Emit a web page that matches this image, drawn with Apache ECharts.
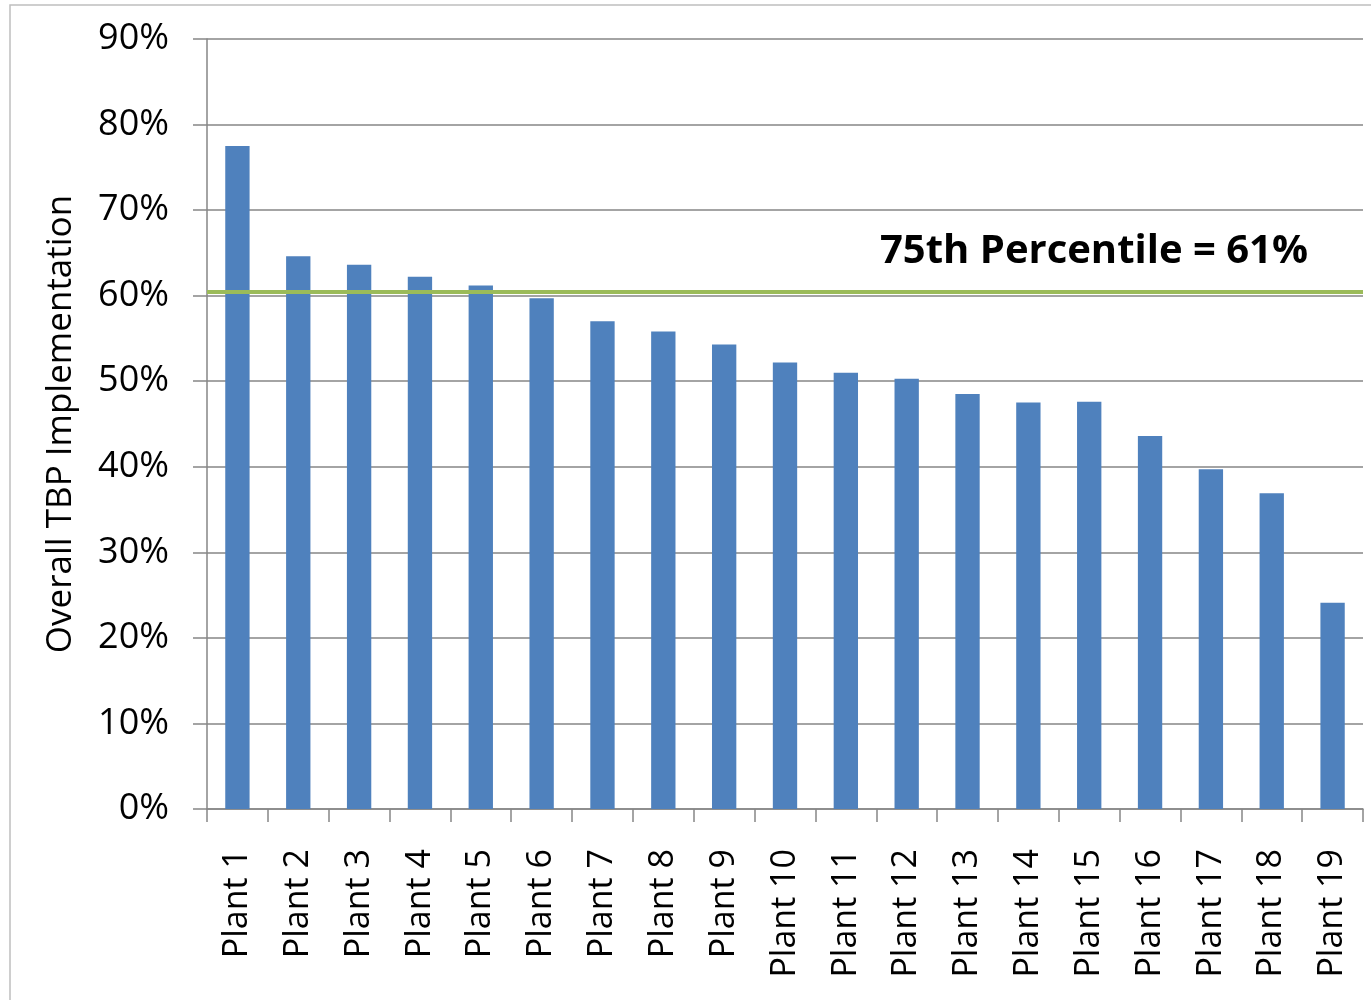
<!DOCTYPE html>
<html>
<head>
<meta charset="utf-8">
<script src="https://cdn.jsdelivr.net/npm/echarts@6/dist/echarts.min.js"></script>
<style>
  html, body { margin: 0; padding: 0; background: #fff; }
  #main { width: 1371px; height: 1000px; }
</style>
</head>
<body>
<div id="main"></div>
<script>
// data
var plants = ['Plant 1', 'Plant 2', 'Plant 3', 'Plant 4', 'Plant 5', 'Plant 6', 'Plant 7',
  'Plant 8', 'Plant 9', 'Plant 10', 'Plant 11', 'Plant 12', 'Plant 13', 'Plant 14',
  'Plant 15', 'Plant 16', 'Plant 17', 'Plant 18', 'Plant 19'];
var implementation = [77.5, 64.6, 63.6, 62.2, 61.2, 59.7, 57.0, 55.8, 54.3, 52.2,
  51.0, 50.3, 48.5, 47.5, 47.6, 43.6, 39.7, 36.9, 24.1];
var percentile75 = 60.5;
var percentileText = '75th Percentile = 61%';

var font = 'Open Sans';
var chart = echarts.init(document.getElementById('main'));

var option = {
  animation: false,
  backgroundColor: '#fff',
  graphic: [{
    type: 'rect',
    shape: { x: 10, y: 5, width: 1400, height: 1100 },
    style: { fill: 'none', stroke: '#bfbfbf', lineWidth: 1.5 },
    silent: true
  }],
  grid: { left: 207, top: 39, right: 8, bottom: 191 },
  xAxis: {
    type: 'category',
    data: plants,
    axisLine: { lineStyle: { color: '#868686', width: 1.5 } },
    axisTick: { show: true, length: 13, lineStyle: { color: '#868686', width: 1.5 } },
    axisLabel: {
      rotate: 90, margin: 40, color: '#000', fontFamily: font, fontSize: 34, interval: 0
    }
  },
  yAxis: {
    type: 'value',
    min: 0, max: 90, interval: 10,
    name: 'Overall TBP Implementation',
    nameLocation: 'middle',
    nameGap: 128,
    nameTextStyle: { color: '#000', fontFamily: font, fontSize: 35 },
    axisLine: { show: true, lineStyle: { color: '#868686', width: 1.5 } },
    axisTick: { show: true, length: 14, lineStyle: { color: '#868686', width: 1.5 } },
    splitLine: { lineStyle: { color: '#868686', width: 1.5 } },
    axisLabel: {
      formatter: '{value}%', margin: 38, color: '#000', fontFamily: font, fontSize: 36
    }
  },
  series: [{
    type: 'bar',
    data: implementation,
    barWidth: '40%',
    itemStyle: { color: '#4f81bd' },
    markLine: {
      silent: true,
      symbol: 'none',
      data: [{ yAxis: percentile75 }],
      lineStyle: { color: '#9bbb59', width: 4, type: 'solid' },
      label: {
        show: true,
        position: 'insideEndTop',
        formatter: percentileText,
        color: '#000',
        fontFamily: font,
        fontWeight: 'bold',
        fontSize: 40,
        distance: [55, 20]
      }
    }
  }]
};

chart.setOption(option);
</script>
</body>
</html>
